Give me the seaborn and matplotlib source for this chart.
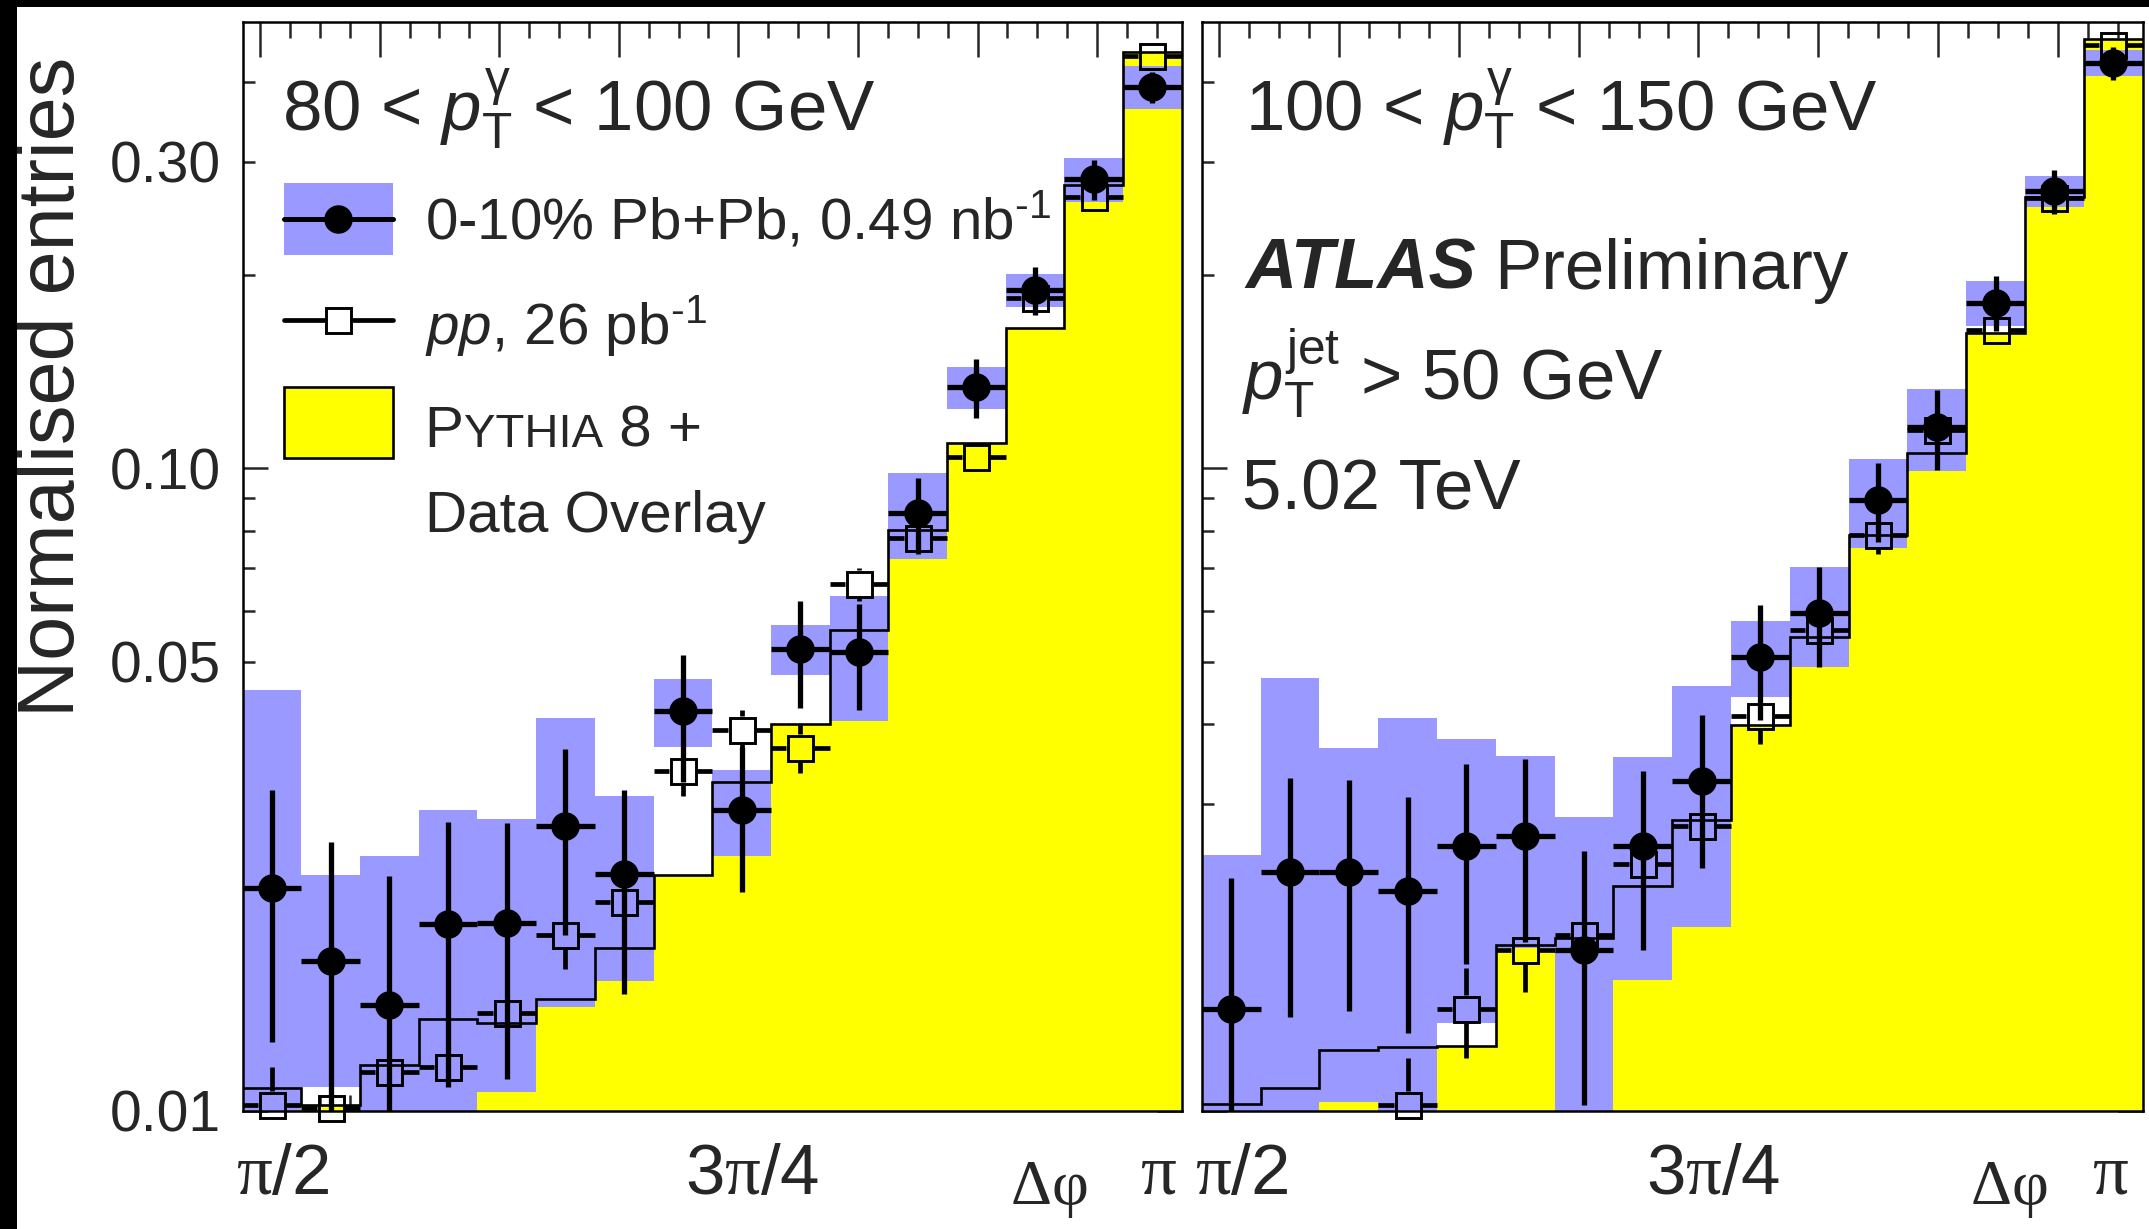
import numpy as np
import pandas as pd
import matplotlib
matplotlib.use("Agg")
import matplotlib.pyplot as plt
import seaborn as sns
from matplotlib.patches import Rectangle
from matplotlib.collections import LineCollection
from matplotlib.ticker import FixedLocator, FuncFormatter, MultipleLocator

# ---------------- data ----------------
bin_edges = np.pi * np.arange(16, 33) / 32.0   # pi/2 ... pi, 16 bins

# 80 < pT < 100 GeV
pbpb_lo = [0.0222, 0.0171, 0.0146, 0.0195, 0.0196, 0.0277, 0.0234, 0.0419,
           0.0294, 0.0523, 0.0518, 0.0853, 0.1337, 0.1896, 0.2819, 0.3928]
pbpb_stat_lo = [0.0094, 0.0091, 0.0086, 0.0086, 0.0084, 0.0089, 0.0082, 0.0094,
                0.0075, 0.0099, 0.0098, 0.0114, 0.0141, 0.0160, 0.0200, 0.0220]
pbpb_syst_lo = [0.0230, 0.0062, 0.0103, 0.0099, 0.0089, 0.0132, 0.0075, 0.0051,
                0.0045, 0.0047, 0.0114, 0.0131, 0.0100, 0.0110, 0.0220, 0.0300]
pp_lo = [0.0102, 0.0101, 0.0115, 0.0117, 0.0142, 0.0188, 0.0211, 0.0338,
         0.0391, 0.0367, 0.0661, 0.0780, 0.1042, 0.1840, 0.2650, 0.4385]
pp_stat_lo = [0.0015, 0.0010, 0.0006, 0.0006, 0.0008, 0.0022, 0.0020, 0.0029,
              0.0030, 0.0031, 0.0039, 0.0045, 0.0045, 0.0070, 0.0090, 0.0100]
mc_lo = [0.01086, 0.01019, 0.01177, 0.01387, 0.01370, 0.01490, 0.01790, 0.02330,
         0.03247, 0.04006, 0.05601, 0.08012, 0.1094, 0.1652, 0.2763, 0.4454]

# 100 < pT < 150 GeV
pbpb_hi = [0.0144, 0.0235, 0.0235, 0.0220, 0.0258, 0.0268, 0.0178, 0.0258,
           0.0326, 0.0509, 0.0596, 0.0893, 0.1160, 0.1812, 0.2700, 0.4280]
pbpb_stat_hi = [0.0086, 0.0095, 0.0092, 0.0088, 0.0089, 0.0085, 0.0076, 0.0080,
                0.0087, 0.0103, 0.0105, 0.0125, 0.0165, 0.0178, 0.0210, 0.0250]
pbpb_syst_hi = [0.0106, 0.0236, 0.0132, 0.0188, 0.0121, 0.0089, 0.0109, 0.0098,
                0.0133, 0.0069, 0.0105, 0.0140, 0.0170, 0.0143, 0.0150, 0.0194]
pp_hi = [np.nan, np.nan, np.nan, 0.0102, 0.0144, 0.0178, 0.0188, 0.0242,
         0.0277, 0.0411, 0.0561, 0.0787, 0.1147, 0.1643, 0.2634, 0.4563]
pp_stat_hi = [0.0, 0.0, 0.0, 0.0019, 0.0023, 0.0025, 0.0020, 0.0025,
              0.0030, 0.0039, 0.0040, 0.0050, 0.0050, 0.0060, 0.0080, 0.0100]
mc_hi = [0.01025, 0.01086, 0.01244, 0.01255, 0.0126, 0.0181, 0.01855, 0.02239,
         0.02836, 0.0399, 0.05473, 0.0789, 0.1057, 0.1622, 0.2650, 0.4655]

panel_titles = [r"80 < $p_{\mathsf{T}}^{\mathsf{\gamma}}$ < 100 GeV",
                r"100 < $p_{\mathsf{T}}^{\mathsf{\gamma}}$ < 150 GeV"]
legend_labels = ["0-10% Pb+Pb, 0.49 nb$^{\\mathsf{\u20101}}$",
                 "$pp$, 26 pb$^{\\mathsf{\u20101}}$",
                 "Data Overlay"]
ylabel = "Normalised entries"

# ---------------- style ----------------
BLUE = "#9999ff"
YELLOW = "#ffff00"
W, H = 2149, 1229

sns.set_theme(style="ticks")
plt.rcParams["font.family"] = ["Liberation Sans", "DejaVu Sans"]
plt.rcParams["mathtext.fontset"] = "custom"
plt.rcParams["mathtext.rm"] = "Liberation Serif"
plt.rcParams["mathtext.it"] = "Liberation Sans:italic"
plt.rcParams["mathtext.sf"] = "Liberation Sans"
plt.rcParams["mathtext.bf"] = "Liberation Sans:bold"
plt.rcParams["axes.linewidth"] = 1.8
plt.rcParams["axes.edgecolor"] = "black"

fig = plt.figure(figsize=(W / 100, H / 100), dpi=100)
fig.patch.set_facecolor("white")
axL = fig.add_axes([242.7 / W, 1 - 1110.7 / H, 939 / W, 1089 / H])
axR = fig.add_axes([1201.7 / W, 1 - 1110.7 / H, 941 / W, 1089 / H])

PP_MS, PP_MEW = 18.0, 2.1
PB_MS = 19.5


def draw_panel(ax, pbpb, stat, syst, pp, ppstat, mc):
    pbpb = np.asarray(pbpb); stat = np.asarray(stat); syst = np.asarray(syst)
    pp = np.asarray(pp, dtype=float); ppstat = np.asarray(ppstat); mc = np.asarray(mc)
    centers = 0.5 * (bin_edges[:-1] + bin_edges[1:])
    half = 0.5 * np.diff(bin_edges)

    # MC histogram (filled)
    df = pd.DataFrame({"dphi": centers, "w": mc})
    sns.histplot(data=df, x="dphi", weights="w", bins=list(bin_edges), stat="count",
                 element="bars", fill=True, color=YELLOW, alpha=1.0,
                 edgecolor=YELLOW, linewidth=0.8, ax=ax, zorder=1)
    ax.set_yscale("log")
    ax.set_xlim(bin_edges[0], bin_edges[-1])
    ax.set_ylim(0.01, 0.496)
    ax.set_xlabel("")
    ax.set_ylabel("")

    # systematic boxes
    lo = np.clip(pbpb - syst, 1e-4, None)
    hi = pbpb + syst
    ax.bar(centers, hi - lo, bottom=lo, width=2 * half, color=BLUE, linewidth=0,
           zorder=2)

    # MC outline
    ax.stairs(mc, bin_edges, baseline=None, color="black", linewidth=1.9, zorder=3)

    # pp points: error bars with gaps around the open squares
    fig.canvas.draw()
    half_px = (PP_MS + PP_MEW) / 2 * 100 / 72
    inv = ax.transData.inverted()
    segs = []
    for x, y, e, hw in zip(centers, pp, ppstat, half):
        if not np.isfinite(y):
            continue
        dx, dy = ax.transData.transform((x, y))
        top_in = inv.transform((dx, dy + half_px))[1]
        bot_in = inv.transform((dx, dy - half_px))[1]
        left_in = inv.transform((dx - half_px, dy))[0]
        right_in = inv.transform((dx + half_px, dy))[0]
        if y + e > top_in:
            segs.append([(x, top_in), (x, y + e)])
        if y - e < bot_in:
            segs.append([(x, max(y - e, 1e-4)), (x, bot_in)])
        segs.append([(x - hw, y), (left_in, y)])
        segs.append([(right_in, y), (x + hw, y)])
    ax.add_collection(LineCollection(segs, colors="black", linewidths=3.4, zorder=4))
    ax.plot(centers, pp, "s", mfc="none", mec="black", ms=PP_MS, mew=PP_MEW,
            zorder=4, clip_on=False)

    # Pb+Pb points
    ylow = np.minimum(stat, pbpb - 1e-4)
    eb = ax.errorbar(centers, pbpb, yerr=[ylow, stat], xerr=half, fmt="o",
                     color="black", ms=PB_MS, elinewidth=3.8, capsize=0, zorder=5)
    eb[0].set_clip_on(False)

    # ticks
    ax.xaxis.set_major_locator(MultipleLocator(0.2))
    ax.xaxis.set_minor_locator(MultipleLocator(0.05))
    ax.yaxis.set_major_locator(FixedLocator([0.01, 0.1]))
    ax.yaxis.set_minor_locator(FixedLocator([0.02, 0.03, 0.04, 0.05, 0.06, 0.07,
                                             0.08, 0.09, 0.2, 0.3, 0.4]))
    ax.tick_params(axis="x", which="major", direction="in", length=25, width=1.8,
                   top=True, bottom=True, labelbottom=False)
    ax.tick_params(axis="x", which="minor", direction="in", length=11.5, width=1.8,
                   top=True, bottom=True)
    ax.tick_params(axis="y", which="major", direction="in", length=18, width=1.8,
                   left=True, right=True)
    ax.tick_params(axis="y", which="minor", direction="in", length=8.6, width=1.8,
                   left=True, right=True)
    for s in ax.spines.values():
        s.set_visible(True)
        s.set_linewidth(1.8)
        s.set_color("black")
    ax.set_facecolor("white")
    return centers


draw_panel(axL, pbpb_lo, pbpb_stat_lo, pbpb_syst_lo, pp_lo, pp_stat_lo, mc_lo)
draw_panel(axR, pbpb_hi, pbpb_stat_hi, pbpb_syst_hi, pp_hi, pp_stat_hi, mc_hi)

# y tick labels only on left panel
lab_major = {0.01: "0.01", 0.1: "0.10"}
lab_minor = {0.05: "0.05", 0.3: "0.30"}


def fmt_from(d):
    def f(v, p):
        for k, s in d.items():
            if abs(v - k) < 1e-6:
                return s
        return ""
    return f


axL.yaxis.set_major_formatter(FuncFormatter(fmt_from(lab_major)))
axL.yaxis.set_minor_formatter(FuncFormatter(fmt_from(lab_minor)))
axL.tick_params(axis="y", which="both", labelsize=41, pad=16)
axR.yaxis.set_major_formatter(FuncFormatter(lambda v, p: ""))
axR.yaxis.set_minor_formatter(FuncFormatter(lambda v, p: ""))

# x axis custom labels
for ax, xpi in ((axL, 0.975), (axR, 0.966)):
    ax.text(0.043, -0.0762, r"$\mathrm{\pi}$/2", transform=ax.transAxes,
            ha="center", va="baseline", fontsize=51)
    ax.text(0.543, -0.0762, r"3$\mathrm{\pi}$/4", transform=ax.transAxes,
            ha="center", va="baseline", fontsize=51)
    ax.text(xpi, -0.0762, r"$\mathrm{\pi}$", transform=ax.transAxes,
            ha="center", va="baseline", fontsize=51)
    ax.text(0.858, -0.0854, r"$\mathrm{\Delta\varphi}$", transform=ax.transAxes,
            ha="center", va="baseline", fontsize=46)

# y label
fig.text(53.5 / W, 1 - 387 / H, ylabel, rotation=90, ha="center", va="center",
         fontsize=57)

# panel titles
axL.text(0.0414, 0.900, panel_titles[0], transform=axL.transAxes, fontsize=51,
         va="baseline", ha="left")
axR.text(0.046, 0.900, panel_titles[1], transform=axR.transAxes, fontsize=51,
         va="baseline", ha="left")

# ATLAS label & info
fig.canvas.draw()
renderer = fig.canvas.get_renderer()
t_atlas = axR.text(0.046, 0.755, "ATLAS", transform=axR.transAxes, fontsize=51,
                   fontweight="bold", fontstyle="italic", va="baseline", ha="left")
bb = t_atlas.get_window_extent(renderer)
x_next = axR.transAxes.inverted().transform((bb.x1 + 18, bb.y0))[0]
axR.text(x_next, 0.755, "Preliminary", transform=axR.transAxes, fontsize=51,
         va="baseline", ha="left")
axR.text(0.0425, 0.6535, r"$p_{\mathsf{T}}^{\mathsf{jet}}$ > 50 GeV",
         transform=axR.transAxes, fontsize=51, va="baseline", ha="left")
axR.text(0.0425, 0.5517, "5.02 TeV", transform=axR.transAxes, fontsize=51,
         va="baseline", ha="left")

# legend (drawn by hand, ROOT style)
lx0, lx1 = 0.044, 0.160
lxc = 0.5 * (lx0 + lx1)
axL.add_patch(Rectangle((lx0, 0.7858), lx1 - lx0, 0.0661, transform=axL.transAxes,
                        facecolor=BLUE, edgecolor="none", zorder=6, clip_on=False))
axL.plot([lx0, lx1], [0.8188, 0.8188], transform=axL.transAxes, color="black",
         lw=3.6, zorder=7, clip_on=False)
axL.plot([lxc], [0.8188], "o", transform=axL.transAxes, color="black", ms=PB_MS,
         zorder=7, clip_on=False)
hsq = (PP_MS + PP_MEW) / 2 * 100 / 72 / 939
axL.plot([lx0, lxc - hsq], [0.7261, 0.7261], transform=axL.transAxes, color="black",
         lw=3.4, zorder=7, clip_on=False)
axL.plot([lxc + hsq, lx1], [0.7261, 0.7261], transform=axL.transAxes, color="black",
         lw=3.4, zorder=7, clip_on=False)
axL.plot([lxc], [0.7261], "s", transform=axL.transAxes, mfc="none", mec="black",
         ms=PP_MS, mew=PP_MEW, zorder=7, clip_on=False)
axL.add_patch(Rectangle((lx0, 0.5989), lx1 - lx0, 0.066, transform=axL.transAxes,
                        facecolor=YELLOW, edgecolor="black", lw=1.9, zorder=6,
                        clip_on=False))

tx = 0.1937
axL.text(tx, 0.8005, legend_labels[0], transform=axL.transAxes, fontsize=42,
         va="baseline", ha="left", zorder=8)
axL.text(tx, 0.7040, legend_labels[1], transform=axL.transAxes, fontsize=42,
         va="baseline", ha="left", zorder=8)
# small caps "PYTHIA 8 +"
t1 = axL.text(tx, 0.6098, "P", transform=axL.transAxes, fontsize=42,
              va="baseline", ha="left", zorder=8)
bb1 = t1.get_window_extent(renderer)
x2 = axL.transAxes.inverted().transform((bb1.x1, bb1.y0))[0]
t2 = axL.text(x2, 0.6098, "YTHIA", transform=axL.transAxes, fontsize=34,
              va="baseline", ha="left", zorder=8)
bb2 = t2.get_window_extent(renderer)
x3 = axL.transAxes.inverted().transform((bb2.x1, bb2.y0))[0]
axL.text(x3, 0.6098, " 8 +", transform=axL.transAxes, fontsize=42,
         va="baseline", ha="left", zorder=8)
axL.text(tx, 0.5318, legend_labels[2], transform=axL.transAxes, fontsize=42,
         va="baseline", ha="left", zorder=8)

# black border strips of the original picture
fig.patches.append(Rectangle((0, 1 - 7 / H), 1, 7 / H, transform=fig.transFigure,
                             facecolor="black", edgecolor="none", zorder=10))
fig.patches.append(Rectangle((0, 0), 17 / W, 1, transform=fig.transFigure,
                             facecolor="black", edgecolor="none", zorder=10))

fig.savefig("out.png", dpi=100, facecolor="white")
